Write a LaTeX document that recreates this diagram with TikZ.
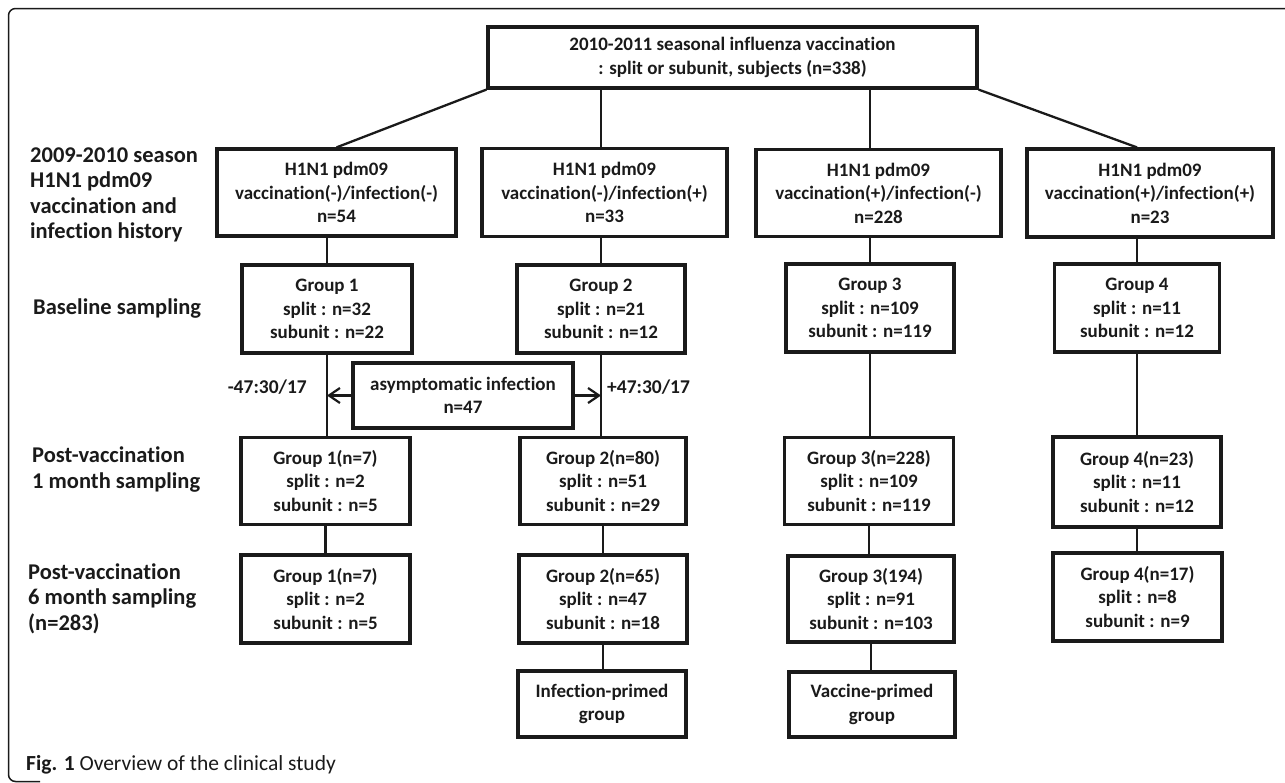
\documentclass[tikz,border=0pt]{standalone}
\usepackage{fontspec}
\setmainfont{Carlito}[Ligatures=NoCommon]
\usetikzlibrary{arrows.meta}
\definecolor{ink}{HTML}{1A1A1A}
\begin{document}
\begin{tikzpicture}[x=1pt,y=-1pt,
  box/.style={draw=ink, line width=3.2pt, align=center, inner sep=0pt,
    font=\fontsize{19}{23.5}\selectfont\bfseries, text=ink},
  conn/.style={draw=ink, line width=2.3pt},
  arr/.style={draw=ink, line width=2.2pt, -{Straight Barb[length=11pt,width=15pt]}},
  lbl/.style={anchor=west, align=left, inner sep=0pt, text=ink,
    font=\fontsize{22.5}{25.3}\selectfont\bfseries},
  side/.style={inner sep=0pt, text=ink, font=\fontsize{19.5}{23.5}\selectfont\bfseries}]
\useasboundingbox (0,0) rectangle (1285,782);
% frame
\draw[ink, line width=1.5pt, rounded corners=7pt] (1290,8.5) -- (8.5,8.5) -- (8.5,781.5) -- (40,781.5);
% top
\node[box, minimum width=489pt, minimum height=61pt] (top) at (732.5,57.5)
  {2010-2011 seasonal influenza vaccination\\: split or subunit, subjects (n=338)};
% level 2
\node[box, minimum width=239pt, minimum height=87pt] (A) at (336.5,192.5)
  {H1N1 pdm09\\vaccination(-)/infection(-)\\n=54};
\node[box, minimum width=245pt, minimum height=88pt] (B) at (604.5,192.5)
  {H1N1 pdm09\\vaccination(-)/infection(+)\\n=33};
\node[box, minimum width=245pt, minimum height=87pt] (C) at (878.5,193)
  {H1N1 pdm09\\vaccination(+)/infection(-)\\n=228};
\node[box, minimum width=246pt, minimum height=88pt] (D) at (1150,193)
  {H1N1 pdm09\\vaccination(+)/infection(+)\\n=23};
% baseline
\node[box, minimum width=170pt, minimum height=88pt] (g1b) at (327,309)
  {Group 1\\split : n=32\\subunit : n=22};
\node[box, minimum width=168pt, minimum height=88pt] (g2b) at (601,309)
  {Group 2\\split : n=21\\subunit : n=12};
\node[box, minimum width=168pt, minimum height=88pt] (g3b) at (870,308)
  {Group 3\\split : n=109\\subunit : n=119};
\node[box, minimum width=165pt, minimum height=88pt] (g4b) at (1137,308)
  {Group 4\\split : n=11\\subunit : n=12};
% asymptomatic
\node[box, minimum width=220pt, minimum height=65pt] (asym) at (463,395.5)
  {asymptomatic infection\\n=47};
% 1 month
\node[box, minimum width=169pt, minimum height=87pt] (g1m) at (325.5,481)
  {Group 1(n=7)\\split : n=2\\subunit : n=5};
\node[box, minimum width=166pt, minimum height=87pt] (g2m) at (603,481)
  {Group 2(n=80)\\split : n=51\\subunit : n=29};
\node[box, minimum width=169pt, minimum height=87pt] (g3m) at (869,481)
  {Group 3(n=228)\\split : n=109\\subunit : n=119};
\node[box, minimum width=168pt, minimum height=90pt] (g4m) at (1137,482)
  {Group 4(n=23)\\split : n=11\\subunit : n=12};
% 6 month
\node[box, minimum width=169pt, minimum height=88pt] (g1s) at (325.5,599)
  {Group 1(n=7)\\split : n=2\\subunit : n=5};
\node[box, minimum width=168pt, minimum height=88pt] (g2s) at (603,599)
  {Group 2(n=65)\\split : n=47\\subunit : n=18};
\node[box, minimum width=166pt, minimum height=86pt] (g3s) at (871,599)
  {Group 3(194)\\split : n=91\\subunit : n=103};
\node[box, minimum width=169pt, minimum height=88pt] (g4s) at (1137.5,597)
  {Group 4(n=17)\\split : n=8\\subunit : n=9};
% primed
\node[box, minimum width=168pt, minimum height=66pt] (ip) at (602,704)
  {Infection-primed\\group};
\node[box, minimum width=166pt, minimum height=65pt] (vp) at (872,704.5)
  {Vaccine-primed\\group};
% connectors
\draw[conn] (top.south west) -- (A.north);
\draw[conn] (top.south -| g2b.north) -- (B.north -| g2b.north);
\draw[conn] (top.south -| g3b.north) -- (C.north -| g3b.north);
\draw[conn] (top.south east) -- (D.north -| g4b.north);
\draw[conn] (A.south -| g1b.north) -- (g1b.north);
\draw[conn] (B.south -| g2b.north) -- (g2b.north);
\draw[conn] (C.south -| g3b.north) -- (g3b.north);
\draw[conn] (D.south -| g4b.north) -- (g4b.north);
\draw[conn] (g1b.south) -- (g1b.south |- g1m.north);
\draw[conn] (g2b.south) -- (g2b.south |- g2m.north);
\draw[conn] (g3b.south) -- (g3b.south |- g3m.north);
\draw[conn] (g4b.south) -- (g4b.south |- g4m.north);
\draw[conn] (g1m.south) -- (g1m.south |- g1s.north);
\draw[conn] (g2m.south) -- (g2m.south |- g2s.north);
\draw[conn] (g3m.south) -- (g3m.south |- g3s.north);
\draw[conn] (g4m.south) -- (g4m.south |- g4s.north);
\draw[conn] (g2s.south) -- (g2s.south |- ip.north);
\draw[conn] (g3s.south) -- (g3s.south |- vp.north);
\draw[arr] (asym.west) -- (asym.west -| g1b.south);
\draw[arr] (asym.east) -- (asym.east -| g2b.south);
\node[side, anchor=east] (lm) at (307,387) {-47:30/17};
\node[side, anchor=west] (lp) at (607,387) {+47:30/17};
% left labels
\node[lbl] (l1) at (30,195) {2009-2010 season\\H1N1 pdm09\\vaccination and\\infection history};
\node[lbl] (l2) at (33,309) {Baseline sampling};
\node[lbl] (l3) at (32,469.5) {Post-vaccination\\1 month sampling};
\node[lbl] (l4) at (28,598.5) {Post-vaccination\\6 month sampling\\(n=283)};
% caption
\node[anchor=west, inner sep=0pt, text=ink, font=\fontsize{21.5}{26}\selectfont] (cap) at (26,765)
  {\textbf{Fig. 1} Overview of the clinical study};
\end{tikzpicture}
\end{document}
